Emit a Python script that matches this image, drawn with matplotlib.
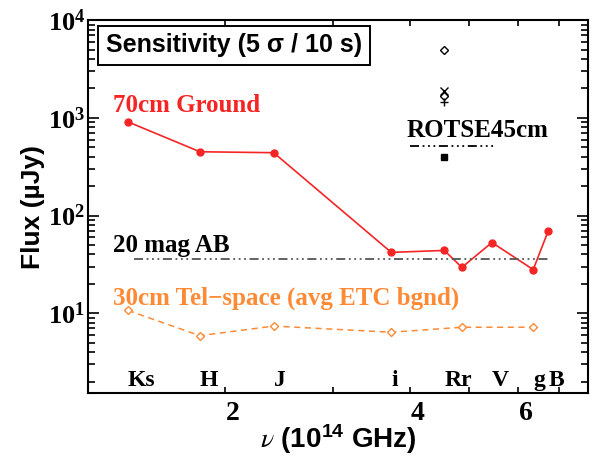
import matplotlib
matplotlib.use("Agg")
import matplotlib.pyplot as plt
from matplotlib.ticker import FixedLocator, NullFormatter, LogLocator, LogFormatterSciNotation
import matplotlib.transforms as mtransforms

# band centre frequencies (10^14 Hz)
band_names = ["Ks", "H", "J", "i", "Rr", "V", "g", "B"]
band_freq = [1.39, 1.82, 2.40, 3.73, 4.55, 5.44, 6.35, 6.72]

# 70cm ground telescope
ground_freq = [1.39, 1.82, 2.40, 3.73, 4.55, 4.86, 5.44, 6.35, 6.72]
ground_flux = [910, 450, 440, 42, 44, 29.5, 53, 28, 70]

# 30cm space telescope
space_freq = [1.39, 1.82, 2.40, 3.73, 4.86, 6.35]
space_flux = [10.7, 5.9, 7.4, 6.4, 7.2, 7.2]

# 20 mag AB reference
ab_freq = [1.42, 6.72]
ab_flux = [36.3, 36.3]

# ROTSE 45cm points (all at R band)
rotse_freq = 4.55
rotse_flux = [4940, 1890, 1680, 1460, 400]
rotse_markers = ["D", "x", "D", "+", "s"]
rotse_key_freq = [4.0, 5.5]
rotse_key_flux = [520, 520]

serif = "Liberation Serif"
sans = "Liberation Sans"
plt.rcParams["mathtext.fontset"] = "stix"

fig = plt.figure(figsize=(5.94, 4.58), dpi=100)
ax = fig.add_axes([0.148, 0.142, 0.842, 0.814])
ax.set_xscale("log")
ax.set_yscale("log")
ax.set_xlim(1.196, 7.8)
ax.set_ylim(1.53, 1.0e4)

red = "#f52525"
orange = "#ff8a35"

ax.plot(ground_freq, ground_flux, "-", color=red, lw=1.2, marker="o", ms=5, mec=red, mfc=red)
ax.plot(space_freq, space_flux, "--", color=orange, lw=1.1, marker="D", ms=4, mfc="white", mec=orange,
        dashes=(4, 3))
ax.plot(ab_freq, ab_flux, color="#555555", lw=1.3, dashes=(5, 2, 1, 2, 1, 2, 1, 2))
ax.plot(rotse_key_freq, rotse_key_flux, color="black", lw=1.3, dashes=(5, 2, 1, 2, 1, 2, 1, 2))

for f, m in zip(rotse_flux, rotse_markers):
    if m in ("x", "+"):
        ax.plot([rotse_freq], [f], m, color="black", ms=6, mew=1.0)
    elif m == "s":
        ax.plot([rotse_freq], [f], m, color="black", ms=4)
    else:
        ax.plot([rotse_freq], [f], m, mfc="white", mec="black", ms=4.5, mew=1.0)

# band labels
trans = mtransforms.blended_transform_factory(ax.transData, ax.transAxes)
for name, f in zip(band_names, band_freq):
    ax.text(f, 0.02, name, transform=trans, ha="left", va="baseline",
            fontsize=17, fontweight="bold", family=serif)

ax.text(0.05, 0.753, "70cm Ground", transform=ax.transAxes, color=red, fontsize=18,
        fontweight="bold", family=serif, va="baseline")
ax.text(0.638, 0.686, "ROTSE45cm", transform=ax.transAxes, color="black", fontsize=18,
        fontweight="bold", family=serif, va="baseline")
ax.text(0.05, 0.378, "20 mag AB", transform=ax.transAxes, color="black", fontsize=18,
        fontweight="bold", family=serif, va="baseline")
ax.text(0.05, 0.236, "30cm Tel\u2212space (avg ETC bgnd)", transform=ax.transAxes, color=orange,
        fontsize=18, fontweight="bold", family=serif, va="baseline")

ax.text(0.036, 0.933, "Sensitivity (5 \u03c3 / 10 s)", transform=ax.transAxes, fontsize=18,
        fontweight="bold", family=sans, va="center", ha="left",
        bbox=dict(boxstyle="square,pad=0.3", fc="white", ec="black", lw=1.4))

# ticks
ax.xaxis.set_major_locator(FixedLocator([2, 4, 6]))
ax.xaxis.set_minor_locator(FixedLocator([3, 5, 7]))
ax.xaxis.set_major_formatter(plt.FuncFormatter(lambda v, p: "%d" % v))
ax.xaxis.set_minor_formatter(NullFormatter())
ax.yaxis.set_major_locator(LogLocator(base=10))
ax.yaxis.set_minor_locator(LogLocator(base=10, subs=range(2, 10)))
ax.yaxis.set_major_formatter(LogFormatterSciNotation())
ax.yaxis.set_minor_formatter(NullFormatter())

ax.tick_params(axis="both", which="both", direction="in", top=True, right=True, width=1.2)
ax.tick_params(axis="y", which="major", length=8, pad=2)
ax.tick_params(axis="y", which="minor", length=5)
ax.tick_params(axis="x", which="both", length=4, pad=6)
for lab in ax.get_yticklabels():
    lab.set_family(serif)
    lab.set_fontweight("bold")
    lab.set_fontsize(19)
shift = mtransforms.ScaledTranslation(8 / 100, 0, fig.dpi_scale_trans)
for lab in ax.get_xticklabels():
    lab.set_family(serif)
    lab.set_fontweight("bold")
    lab.set_fontsize(20)
    lab.set_transform(lab.get_transform() + shift)

for sp in ax.spines.values():
    sp.set_linewidth(1.5)

ax.set_ylabel("Flux (\u00b5Jy)", fontsize=19, fontweight="bold", family=sans, labelpad=2)
ax.set_xlabel(r"$\it{\nu}$ (10$\mathregular{^{14}}$ GHz)", fontsize=20, fontweight="bold",
              family=sans, labelpad=-3)

fig.savefig("out.png", dpi=100)
